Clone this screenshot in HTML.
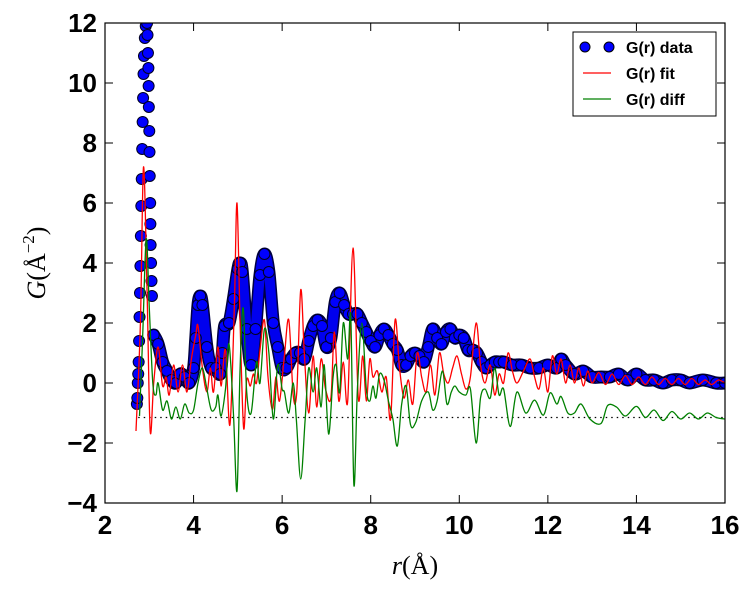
<!DOCTYPE html>
<html><head><meta charset="utf-8"><style>
html,body{margin:0;padding:0;background:#fff;}
svg{display:block;font-family:"Liberation Sans",sans-serif;}
</style></head><body>
<svg id="chart" width="751" height="591"></svg>
<script>
const dataR=[2.72,2.73,2.74,2.75,2.76,2.77,2.78,2.79,2.8,2.81,2.82,2.83,2.84,2.85,2.86,2.87,2.88,2.9,2.92,2.95,2.96,2.97,2.98,2.985,2.99,3.0,3.005,3.01,3.02,3.025,3.03,3.04,3.05,3.06,
3.1,3.2,3.3,3.4,3.5,3.6,3.7,3.8,3.9,4.0,4.05,4.1,4.15,4.2,4.3,4.4,4.5,4.6,4.65,4.7,4.8,4.9,5.0,5.05,5.1,5.2,5.3,5.4,5.5,5.6,5.7,5.8,5.9,6.0,6.1,6.2,6.3,6.4,6.5,6.6,6.7,6.8,6.9,7.0,7.1,7.2,7.3,7.4,7.5,7.6,7.7,7.8,7.9,8.0,8.1,8.2,8.3,8.4,8.5,8.6,8.7,8.8,8.9,9.0,9.1,9.2,9.3,9.4,9.5,9.6,9.7,9.8,9.9,10.0,10.1,10.2,10.3,10.4,10.5,10.6,10.7,10.8,10.9,11.0,11.2,11.4,11.6,11.8,12.0,12.2,12.3,12.4,12.6,12.8,13.0,13.2,13.4,13.6,13.8,14.0,14.2,14.4,14.6,14.8,15.0,15.2,15.5,15.8,16.0];
const dataG=[-0.7,-0.5,0,0.3,0.7,1.4,2.2,3,3.9,4.9,5.9,6.8,7.8,8.7,9.5,10.3,10.9,11.5,11.9,12,11.6,11,10.5,9.9,9.2,8.4,7.7,6.9,6.0,5.3,4.6,4.0,3.4,2.9,
1.6,1.3,0.7,0.4,0.1,0.0,0.3,0.2,0.0,0.5,1.5,2.6,2.9,2.6,1.2,0.5,0.5,0.3,1.0,1.9,2.0,2.8,3.8,4.0,3.7,1.8,0.6,1.8,3.6,4.3,3.7,2.0,1.2,0.5,0.5,0.8,1.0,1.0,0.8,1.4,1.9,2.1,1.9,1.2,1.5,2.7,3.0,2.6,2.3,2.3,2.3,2.0,1.7,1.4,1.2,1.6,1.8,1.6,1.3,1.1,0.6,0.6,0.9,1.0,0.9,0.7,1.2,1.8,1.5,1.3,1.7,1.8,1.5,1.6,1.5,1.1,1.1,1.0,0.7,0.5,0.6,0.7,0.7,0.7,0.6,0.6,0.5,0.5,0.6,0.5,0.8,0.6,0.3,0.4,0.2,0.2,0.2,0.3,0.1,0.3,0.1,0.1,0.0,0.1,0.1,0.0,0.1,0.0,0.0];
const fitR=[2.7,2.8,2.87,2.95,3.02,3.1,3.2,3.3,3.38,3.45,3.55,3.65,3.75,3.85,3.95,4.05,4.1,4.2,4.3,4.38,4.45,4.55,4.62,4.72,4.82,4.92,4.98,5.05,5.13,5.2,5.28,5.35,5.42,5.5,5.6,5.68,5.78,5.86,5.94,6.05,6.15,6.25,6.33,6.42,6.5,6.6,6.7,6.78,6.88,6.98,7.1,7.18,7.28,7.38,7.48,7.6,7.72,7.82,7.9,7.98,8.05,8.15,8.25,8.35,8.45,8.55,8.65,8.75,8.85,8.95,9.05,9.15,9.25,9.35,9.45,9.55,9.65,9.75,9.85,9.95,10.05,10.15,10.25,10.38,10.48,10.58,10.7,10.8,10.9,11.0,11.1,11.2,11.3,11.45,11.6,11.7,11.8,11.9,12.0,12.1,12.2,12.3,12.4,12.5,12.6,12.7,12.8,12.9,13.0,13.15,13.3,13.45,13.6,13.75,13.9,14.05,14.2,14.35,14.5,14.65,14.8,14.95,15.1,15.25,15.4,15.55,15.7,15.85,16.0];
const fitG=[-1.6,2,7.2,3,-1.6,0,1.2,-0.1,0.2,-0.4,0.6,-0.3,0.6,-0.3,0.8,1.6,1.9,0.5,-0.3,0.5,-0.3,1.2,-0.1,1.1,-1.4,2.5,6.0,2.0,-1.5,0.1,-0.1,0.3,0.0,1.1,2.1,0.2,-0.9,0.2,-0.6,0.9,2.1,-0.4,-0.3,3.1,1.0,-1.0,0.9,-0.8,0.8,-0.2,-0.5,1.7,-0.6,0.7,-0.6,4.5,-0.5,0.9,-0.6,0.8,0.2,0.4,-0.3,0.2,-1.2,2.1,0.5,-0.5,0.1,-0.7,1.0,0.2,-0.3,0.6,-0.4,1.0,0.3,0.0,0.5,0.9,0.3,-0.2,0.2,2.0,0.6,0.0,0.6,-0.4,0.3,0.0,1.0,0.4,0.0,0.4,0.8,0.2,-0.2,0.5,-0.3,0.9,0.3,0.8,0.0,0.6,0.0,0.5,-0.1,0.4,0.0,0.35,-0.05,0.3,-0.05,0.25,-0.05,0.2,-0.05,0.2,-0.05,0.15,-0.05,0.15,-0.05,0.15,-0.05,0.1,-0.05,0.1,0.0];
const diffR=[2.78,2.85,2.93,3.0,3.08,3.15,3.2,3.3,3.4,3.5,3.6,3.7,3.8,3.9,4.0,4.1,4.2,4.3,4.4,4.5,4.55,4.62,4.72,4.8,4.9,4.98,5.05,5.12,5.2,5.3,5.42,5.5,5.6,5.7,5.8,5.9,6.0,6.05,6.15,6.25,6.32,6.42,6.52,6.6,6.7,6.78,6.88,6.95,7.05,7.15,7.22,7.3,7.38,7.48,7.55,7.62,7.7,7.8,7.9,7.98,8.05,8.12,8.2,8.3,8.4,8.5,8.6,8.7,8.8,8.9,9.02,9.15,9.3,9.4,9.5,9.62,9.72,9.82,9.9,10.0,10.15,10.25,10.38,10.48,10.58,10.7,10.8,10.9,11.0,11.15,11.3,11.5,11.7,11.9,12.05,12.2,12.3,12.45,12.6,12.75,12.95,13.2,13.35,13.55,13.75,14.0,14.2,14.4,14.6,14.8,15.0,15.2,15.4,15.6,15.8,16.0];
const diffG=[-1.1,1.5,4.8,2.5,0.0,-0.4,0.0,-0.9,-0.6,-1.2,-0.8,-1.2,-0.7,-1.0,-0.9,0.0,0.5,-0.2,-0.9,-0.8,-0.4,-1.1,-0.2,1.3,-1.0,-3.6,0.5,2.5,-0.3,-1.0,0.7,0.0,1.8,1.0,-1.2,0.6,-0.2,-0.3,-1.0,0.0,-1.2,-3.2,-1.2,0.5,-0.3,0.5,-0.8,0.6,-1.7,0.2,0.6,-0.3,2.0,0.8,2.2,-3.4,-0.2,2.0,-0.2,-0.6,-0.1,-0.5,0.3,0.1,-0.6,-1.2,-2.1,-0.7,-0.1,-1.4,-1.3,-0.6,-0.3,-0.9,-0.6,0.4,-0.7,-0.3,-0.1,-0.3,-0.4,-0.2,-2.0,-0.5,-0.2,-0.5,0.5,-0.4,-0.2,-1.45,-0.3,-1.0,-0.57,-1.07,-0.33,-0.7,-0.45,-1.0,-1.0,-0.7,-1.2,-1.35,-0.75,-0.8,-1.1,-0.78,-1.15,-0.9,-1.25,-0.95,-1.2,-1.0,-1.2,-1.0,-1.15,-1.2];
const xTicks=[2,4,6,8,10,12,14,16];
const yTicks=[-4,-2,0,2,4,6,8,10,12];
const baseline=-1.15;

const NS="http://www.w3.org/2000/svg";
const svg=document.getElementById('chart');
const L=105,R=725,T=23,B=503;
const X=r=>L+(r-2)/(16-2)*(R-L);
const Y=v=>B-(v+4)/(16)*(B-T);
function mk(tag,attrs,parent){const e=document.createElementNS(NS,tag);for(const k in attrs)e.setAttribute(k,attrs[k]);(parent||svg).appendChild(e);return e;}
function smooth(xs,ys){const p=xs.map((x,i)=>[X(x),Y(ys[i])]);let d='M'+p[0][0].toFixed(1)+','+p[0][1].toFixed(1);
for(let i=0;i<p.length-1;i++){const p0=p[Math.max(0,i-1)],p1=p[i],p2=p[i+1],p3=p[Math.min(p.length-1,i+2)];
const c1=[p1[0]+(p2[0]-p0[0])/6,p1[1]+(p2[1]-p0[1])/6],c2=[p2[0]-(p3[0]-p1[0])/6,p2[1]-(p3[1]-p1[1])/6];
d+='C'+c1[0].toFixed(1)+','+c1[1].toFixed(1)+' '+c2[0].toFixed(1)+','+c2[1].toFixed(1)+' '+p2[0].toFixed(1)+','+p2[1].toFixed(1);}return d;}

const defs=mk('defs',{});const cp=mk('clipPath',{id:'clip'},defs);mk('rect',{x:L,y:T,width:R-L,height:B-T},cp);
const plot=mk('g',{'clip-path':'url(#clip)'});



const cStart=34;
const bandR=dataR.slice(cStart),bandG=dataG.slice(cStart);
const b1=mk('path',{d:smooth(bandR,bandG),fill:'none',stroke:'#000044','stroke-width':13,'stroke-linecap':'round','stroke-linejoin':'round'},plot);


const b2=mk('path',{d:smooth(bandR,bandG),fill:'none',stroke:'#0000ee','stroke-width':10,'stroke-linecap':'round','stroke-linejoin':'round'},plot);


dataR.forEach((r,i)=>{const c=mk('circle',{cx:X(r),cy:Y(dataG[i]),r:5.5,fill:'#0000ff',stroke:'#000022','stroke-width':1},plot);

});

const bl=mk('line',{x1:X(2.75),x2:R,y1:Y(baseline),y2:Y(baseline),stroke:'#000','stroke-width':1.3,'stroke-dasharray':'1.5,4'},plot);



const fp=mk('path',{d:smooth(fitR,fitG),fill:'none',stroke:'#ff0000','stroke-width':1.3},plot);


const dp=mk('path',{d:smooth(diffR,diffG),fill:'none',stroke:'#008000','stroke-width':1.3},plot);



const fr=mk('rect',{x:L,y:T,width:R-L,height:B-T,fill:'none',stroke:'#000','stroke-width':1.2});



xTicks.forEach(t=>{const x=X(t);
mk('line',{x1:x,x2:x,y1:B,y2:B-8,stroke:'#000'});mk('line',{x1:x,x2:x,y1:T,y2:T+8,stroke:'#000'});
const tx=mk('text',{x:x,y:B+31,'text-anchor':'middle','font-size':26,'font-weight':'bold'});tx.textContent=t;

});
yTicks.forEach(t=>{const y=Y(t);
mk('line',{x1:L,x2:L+8,y1:y,y2:y,stroke:'#000'});mk('line',{x1:R,x2:R-8,y1:y,y2:y,stroke:'#000'});
const tx=mk('text',{x:L-8,y:y+9,'text-anchor':'end','font-size':26,'font-weight':'bold'});tx.textContent=(t<0?'\u2212'+(-t):t);

});

const xl=mk('text',{x:415,y:574,'text-anchor':'middle','font-size':26,'font-family':'"Liberation Serif",serif'});
xl.innerHTML='<tspan font-style="italic">r</tspan>(Å)';


const yl=mk('text',{x:0,y:0,'text-anchor':'middle','font-size':26,'font-family':'"Liberation Serif",serif',transform:'translate(45,263) rotate(-90)'});
yl.innerHTML='<tspan font-style="italic">G</tspan>(Å<tspan font-size="17" dy="-11">\u22122</tspan><tspan dy="11">)</tspan>';



const lg=mk('g',{});


mk('rect',{x:573,y:32,width:143,height:84,fill:'#fff',stroke:'#000','stroke-width':1},lg);
const entries=[['G(r) data','data'],['G(r) fit','fit'],['G(r) diff','diff']];
entries.forEach((e,i)=>{const y=47+i*26;const g=mk('g',{},lg);


if(e[1]==='data'){mk('circle',{cx:585,cy:y,r:5,fill:'#0000ff',stroke:'#000','stroke-width':1},g);mk('circle',{cx:609,cy:y,r:5,fill:'#0000ff',stroke:'#000','stroke-width':1},g);}
else mk('line',{x1:583,x2:611,y1:y,y2:y,stroke:e[1]==='fit'?'#ff0000':'#008000','stroke-width':1.3},g);
const t=mk('text',{x:626,y:y+6,'font-size':16,'font-weight':'bold'},g);t.textContent=e[0];});
</script>
</body></html>
